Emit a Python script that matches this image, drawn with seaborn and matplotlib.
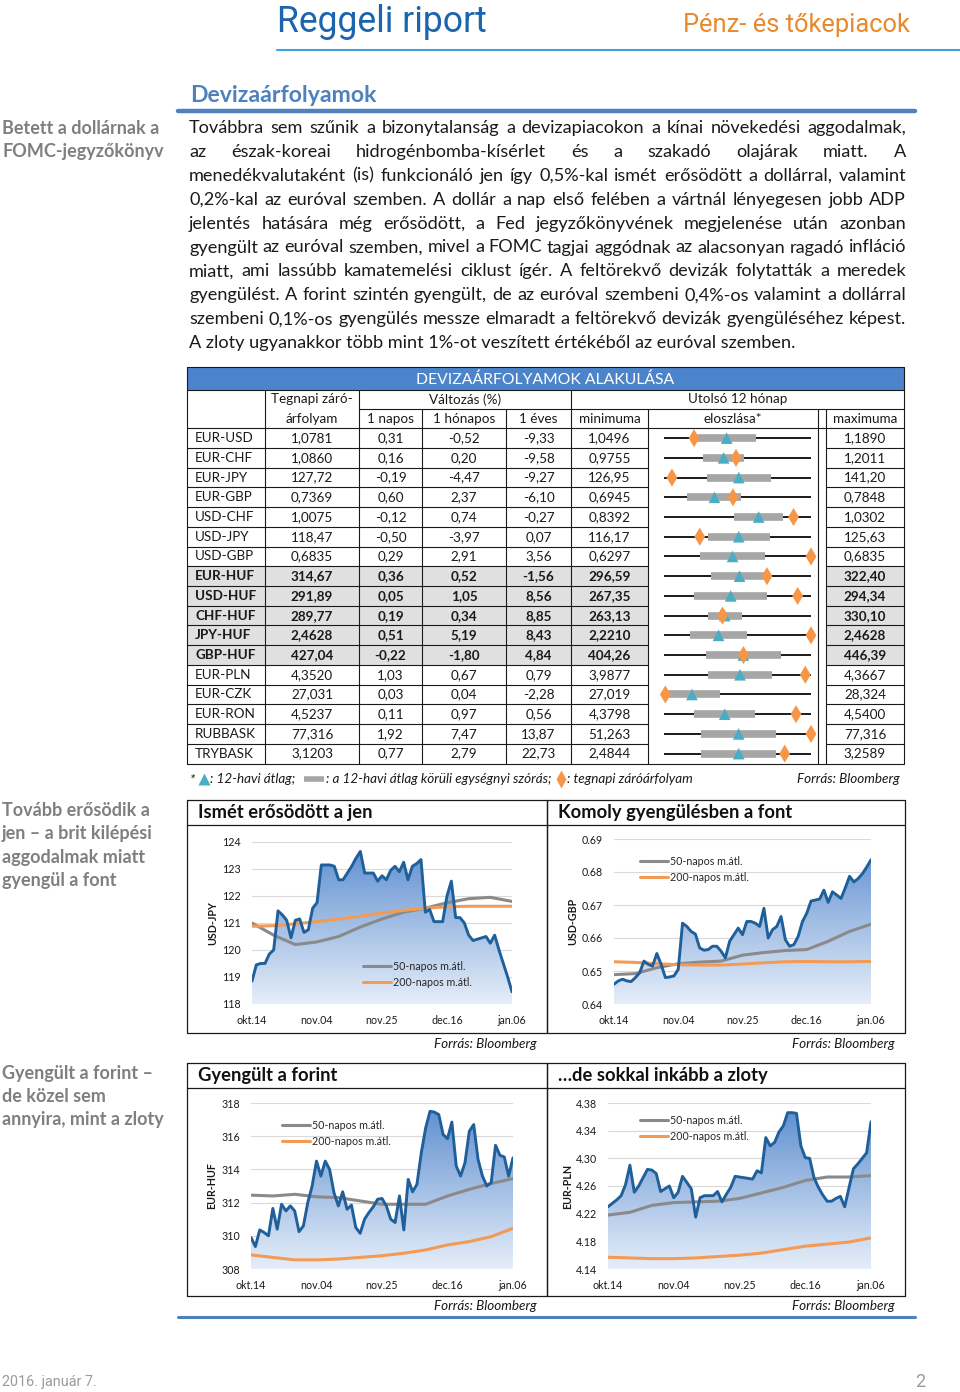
import numpy as np
import seaborn as sns
import matplotlib.pyplot as plt
from matplotlib.lines import Line2D
from matplotlib.colors import LinearSegmentedColormap

# ---- table data ----
pairs = ["EUR-USD", "EUR-CHF", "EUR-JPY", "EUR-GBP", "USD-CHF", "USD-JPY", "USD-GBP",
         "EUR-HUF", "USD-HUF", "CHF-HUF", "JPY-HUF", "GBP-HUF",
         "EUR-PLN", "EUR-CZK", "EUR-RON", "RUBBASK", "TRYBASK"]
decimals = [4, 4, 2, 4, 4, 2, 4, 2, 2, 2, 4, 2, 4, 3, 4, 3, 4]
close = [1.0781, 1.0860, 127.72, 0.7369, 1.0075, 118.47, 0.6835, 314.67, 291.89, 289.77,
         2.4628, 427.04, 4.3520, 27.031, 4.5237, 77.316, 3.1203]
chg_1d = [0.31, 0.16, -0.19, 0.60, -0.12, -0.50, 0.29, 0.36, 0.05, 0.19, 0.51, -0.22, 1.03, 0.03, 0.11, 1.92, 0.77]
chg_1m = [-0.52, 0.20, -4.47, 2.37, 0.74, -3.97, 2.91, 0.52, 1.05, 0.34, 5.19, -1.80, 0.67, 0.04, 0.97, 7.47, 2.79]
chg_1y = [-9.33, -9.58, -9.27, -6.10, -0.27, 0.07, 3.56, -1.56, 8.56, 8.85, 8.43, 4.84, 0.79, -2.28, 0.56, 13.87, 22.73]
min_12m = [1.0496, 0.9755, 126.95, 0.6945, 0.8392, 116.17, 0.6297, 296.59, 267.35, 263.13,
           2.2210, 404.26, 3.9877, 27.019, 4.3798, 51.263, 2.4844]
max_12m = [1.1890, 1.2011, 141.20, 0.7848, 1.0302, 125.63, 0.6835, 322.40, 294.34, 330.10,
           2.4628, 446.39, 4.3667, 28.324, 4.5400, 77.316, 3.2589]
mean_12m = [1.109, 1.067, 134.2, 0.7255, 0.9622, 120.98, 0.6548, 309.86, 279.6, 290.8,
            2.3107, 427.0, 4.1837, 27.267, 4.446, 64.50, 2.878]
std_12m = [0.028, 0.031, 3.1, 0.0166, 0.0318, 2.0, 0.0119, 5.0, 6.7, 7.7,
           0.0472, 10.7, 0.0824, 0.248, 0.033, 6.62, 0.197]
bold_rows = ["EUR-HUF", "USD-HUF", "CHF-HUF", "JPY-HUF", "GBP-HUF"]

# ---- chart data (61 business days, okt.14 - jan.06) ----
day_labels = ["okt.14", "nov.04", "nov.25", "dec.16", "jan.06"]
days = np.arange(61)
ma_days = np.arange(0, 61, 5)

usdjpy = [118.85, 119.45, 119.5, 119.5, 119.85, 120.0, 121.45, 121.3, 121.1, 120.45,
          121.1, 121.15, 120.65, 120.75, 121.55, 121.75, 123.15, 123.15, 123.15, 123.1,
          122.6, 122.6, 122.85, 123.1, 123.4, 123.65, 122.85, 122.85, 122.85, 122.55,
          122.75, 122.6, 122.95, 123.1, 122.9, 123.25, 122.6, 123.1, 123.2, 123.35,
          121.4, 121.5, 121.05, 121.05, 121.05, 122.0, 122.55, 121.2, 121.2, 121.0,
          120.55, 120.35, 120.4, 120.45, 120.5, 120.25, 120.55, 120.0, 119.5, 119.0, 118.45]
usdjpy_50 = [121.0, 120.55, 120.2, 120.3, 120.5, 120.85, 121.15, 121.4, 121.55, 121.75, 121.9, 121.95, 121.8]
usdjpy_200 = [120.88, 120.9, 120.97, 121.05, 121.15, 121.25, 121.37, 121.47, 121.55, 121.6, 121.62, 121.62, 121.62]

usdgbp = [0.6460, 0.6470, 0.6475, 0.6470, 0.6468, 0.6480, 0.6495, 0.6530, 0.6520, 0.6515,
          0.6553, 0.6520, 0.6480, 0.6482, 0.6485, 0.6505, 0.6645, 0.6635, 0.6620, 0.6612,
          0.6570, 0.6563, 0.6565, 0.6575, 0.6575, 0.6560, 0.6540, 0.6590, 0.6610, 0.6630,
          0.6610, 0.6650, 0.6650, 0.6645, 0.6635, 0.6690, 0.6600, 0.6625, 0.6635, 0.6665,
          0.6595, 0.6575, 0.6580, 0.6605, 0.6650, 0.6675, 0.6712, 0.6715, 0.6718, 0.6745,
          0.6708, 0.6740, 0.6730, 0.6720, 0.6752, 0.6787, 0.6770, 0.6780, 0.6795, 0.6815, 0.6837]
usdgbp_50 = [0.6489, 0.6492, 0.6510, 0.6522, 0.6527, 0.6530, 0.6548, 0.6556, 0.6562, 0.6565, 0.6590, 0.6620, 0.6642]
usdgbp_200 = [0.6528, 0.6526, 0.6522, 0.6519, 0.6518, 0.6518, 0.6521, 0.6525, 0.6528, 0.6529, 0.6528, 0.6528, 0.6529]

eurhuf = [309.9, 309.35, 310.35, 310.2, 310.0, 311.65, 310.4, 311.9, 311.5, 311.8,
          311.5, 310.25, 310.6, 312.0, 313.0, 314.5, 313.6, 314.5, 314.0, 312.6,
          311.8, 312.65, 311.6, 311.85, 310.5, 310.15, 311.0, 311.4, 311.75, 312.2,
          312.25, 311.8, 311.0, 310.8, 312.4, 310.35, 313.4, 312.65, 313.1, 315.0,
          316.5, 317.5, 317.45, 317.3, 316.1, 315.85, 316.85, 314.2, 313.6, 314.4,
          316.3, 316.7, 314.6, 313.6, 313.0, 313.2, 315.45, 314.85, 314.75, 313.6, 314.7]
eurhuf_50 = [312.45, 312.4, 312.5, 312.35, 312.3, 312.1, 311.9, 311.9, 311.9, 312.4, 312.8, 313.15, 313.45]
eurhuf_200 = [308.85, 308.7, 308.55, 308.55, 308.6, 308.7, 308.8, 308.95, 309.15, 309.45, 309.65, 309.95, 310.45]

eurpln = [4.230, 4.235, 4.240, 4.246, 4.262, 4.290, 4.251, 4.260, 4.272, 4.284,
          4.283, 4.278, 4.252, 4.256, 4.260, 4.243, 4.251, 4.274, 4.265, 4.256,
          4.215, 4.243, 4.246, 4.246, 4.246, 4.252, 4.237, 4.248, 4.258, 4.274,
          4.273, 4.272, 4.271, 4.270, 4.282, 4.279, 4.330, 4.318, 4.323, 4.338,
          4.347, 4.366, 4.366, 4.365, 4.318, 4.301, 4.300, 4.272, 4.258, 4.247,
          4.238, 4.238, 4.242, 4.245, 4.230, 4.258, 4.285, 4.292, 4.300, 4.308, 4.353]
eurpln_50 = [4.218, 4.222, 4.232, 4.236, 4.237, 4.238, 4.242, 4.250, 4.258, 4.268, 4.273, 4.273, 4.275]
eurpln_200 = [4.157, 4.156, 4.155, 4.155, 4.156, 4.158, 4.160, 4.163, 4.168, 4.173, 4.176, 4.179, 4.185]

body_lines = [
    "Továbbra sem szűnik a bizonytalanság a devizapiacokon a kínai növekedési aggodalmak,",
    "az észak-koreai hidrogénbomba-kísérlet és a szakadó olajárak miatt. A",
    "menedékvalutaként (is) funkcionáló jen így 0,5%-kal ismét erősödött a dollárral, valamint",
    "0,2%-kal az euróval szemben. A dollár a nap első felében a vártnál lényegesen jobb ADP",
    "jelentés hatására még erősödött, a Fed jegyzőkönyvének megjelenése után azonban",
    "gyengült az euróval szemben, mivel a FOMC tagjai aggódnak az alacsonyan ragadó infláció",
    "miatt, ami lassúbb kamatemelési ciklust ígér. A feltörekvő devizák folytatták a meredek",
    "gyengülést. A forint szintén gyengült, de az euróval szembeni 0,4%-os valamint a dollárral",
    "szembeni 0,1%-os gyengülés messze elmaradt a feltörekvő devizák gyengüléséhez képest.",
    "A zloty ugyanakkor több mint 1%-ot veszített értékéből az euróval szemben.",
]

# ---- page setup ----
sns.set_theme(style="white")
plt.rcParams["font.family"] = ["Lato", "DejaVu Sans"]
NARROW = ["Roboto", "DejaVu Sans"]
W, H = 960, 1392
fig = plt.figure(figsize=(W / 100, H / 100), dpi=100)
page = fig.add_axes([0, 0, 1, 1])
page.set_xlim(0, W)
page.set_ylim(H, 0)
page.axis("off")
rend = fig.canvas.get_renderer()


def box(x0, y0, x1, y1):
    return [x0 / W, 1 - y1 / H, (x1 - x0) / W, (y1 - y0) / H]


def width(t):
    return t.get_window_extent(renderer=rend).width


def fitted(x, y, s, target, **kw):
    # shrink/grow the font so the text spans the wanted pixel width
    t = page.text(x, y, s, **kw)
    t.set_fontsize(t.get_fontsize() * target / width(t))
    return t


# header
fitted(277, 22, "Reggeli riport", 210, fontsize=28, color="#1b64ae", family=NARROW, va="center")
fitted(910, 25, "Pénz- és tőkepiacok", 227, fontsize=21, color="#e8892b", family=NARROW,
       va="center", ha="right")
page.plot([277, 960], [50, 50], color="#3fa3db", lw=1.5)
fitted(190, 96, "Devizaárfolyamok", 186, fontsize=15, fontweight="bold", color="#4f81bd", va="center")
page.plot([178, 915], [111, 111], color="#4f81bd", lw=3.2)

# side notes
side = dict(fontsize=13.0, fontweight="bold", color="#7f7f7f", va="center")
for i, s in enumerate(["Betett a dollárnak a", "FOMC-jegyzőkönyv"]):
    page.text(2, 128 + 24 * i, s, **side)
for i, s in enumerate(["Tovább erősödik a", "jen – a brit kilépési", "aggodalmak miatt", "gyengül a font"]):
    page.text(2, 810 + 23.5 * i, s, **side)
for i, s in enumerate(["Gyengült a forint –", "de közel sem", "annyira, mint a zloty"]):
    page.text(2, 1073 + 23.5 * i, s, **side)

# justified body paragraph
x_left, x_right = 189, 906
body_fs = 12
probe = [page.text(0, 0, ln, fontsize=body_fs) for ln in body_lines]
widest = max(width(t) for t in probe)
for t in probe:
    t.remove()
body_fs = body_fs * (x_right - x_left - 3) / widest
for i, ln in enumerate(body_lines):
    y = 128 + 23.9 * i
    if i == len(body_lines) - 1:
        page.text(x_left, y, ln, fontsize=body_fs, color="#1a1a1a", va="center")
        continue
    words = ln.split(" ")
    ts = [page.text(0, y, w, fontsize=body_fs, color="#1a1a1a", va="center") for w in words]
    ws = [width(t) for t in ts]
    gap = (x_right - x_left - sum(ws)) / (len(words) - 1)
    x = x_left
    for t, w in zip(ts, ws):
        t.set_x(x)
        x += w + gap

# ---- table ----
cols = [187, 265, 359, 422, 506, 571, 648, 818, 826, 904]
t_top, t_hdr1, t_hdr2, t_body, t_bot = 367, 389.5, 409, 428.3, 763.5
rh = (t_bot - t_body) / len(pairs)
lc = "#1a1a1a"
tfs = 9.7

page.fill_between([cols[0], cols[-1]], t_top, t_hdr1, color="#4c84cc", lw=0)
for i, p in enumerate(pairs):
    if p in bold_rows:
        y0 = t_body + rh * i
        page.fill_between([cols[0], cols[6]], y0, y0 + rh, color="#e0e0e0", lw=0)
        page.fill_between([cols[8], cols[9]], y0, y0 + rh, color="#e0e0e0", lw=0)

page.plot([cols[0], cols[-1], cols[-1], cols[0], cols[0]], [t_top, t_top, t_bot, t_bot, t_top], color=lc, lw=0.8)
page.plot([cols[0], cols[-1]], [t_hdr1, t_hdr1], color=lc, lw=0.8)
page.plot([cols[2], cols[-1]], [t_hdr2, t_hdr2], color=lc, lw=0.8)
page.plot([cols[0], cols[-1]], [t_body, t_body], color=lc, lw=0.8)
for k in range(1, len(pairs)):
    y = t_body + rh * k
    page.plot([cols[0], cols[6]], [y, y], color=lc, lw=0.8)
    page.plot([cols[8], cols[9]], [y, y], color=lc, lw=0.8)
for c in [cols[1], cols[2], cols[5]]:
    page.plot([c, c], [t_hdr1, t_bot], color=lc, lw=0.8)
for c in [cols[3], cols[4], cols[6], cols[7], cols[8]]:
    page.plot([c, c], [t_hdr2, t_bot], color=lc, lw=0.8)

page.text((cols[0] + cols[-1]) / 2, (t_top + t_hdr1) / 2 + 1, "DEVIZAÁRFOLYAMOK ALAKULÁSA",
          color="white", fontsize=11.3, ha="center", va="center")
hc = dict(fontsize=tfs, ha="center", va="center", color="#1a1a1a")
r1, r2 = (t_hdr1 + t_hdr2) / 2, (t_hdr2 + t_body) / 2
page.text((cols[1] + cols[2]) / 2, r1, "Tegnapi záró-", **hc)
page.text((cols[1] + cols[2]) / 2, r2, "árfolyam", **hc)
page.text((cols[2] + cols[5]) / 2, r1, "Változás (%)", **hc)
page.text((cols[5] + cols[-1]) / 2, r1, "Utolsó 12 hónap", **hc)
for a, b, s in [(2, 3, "1 napos"), (3, 4, "1 hónapos"), (4, 5, "1 éves"), (5, 6, "minimuma"),
                (6, 7, "eloszlása*"), (8, 9, "maximuma")]:
    page.text((cols[a] + cols[b]) / 2, r2, s, **hc)


def fmt(v, d):
    return f"{v:.{d}f}".replace(".", ",")


for i, p in enumerate(pairs):
    y = t_body + rh * (i + 0.5)
    fw = "bold" if p in bold_rows else "normal"
    kw = dict(fontsize=tfs, va="center", color="#1a1a1a", fontweight=fw)
    page.text(cols[0] + 8, y, p, **kw)
    vals = [fmt(close[i], decimals[i]), fmt(chg_1d[i], 2), fmt(chg_1m[i], 2), fmt(chg_1y[i], 2),
            fmt(min_12m[i], decimals[i])]
    for j, v in enumerate(vals):
        page.text((cols[j + 1] + cols[j + 2]) / 2, y, v, ha="center", **kw)
    page.text((cols[8] + cols[9]) / 2, y, fmt(max_12m[i], decimals[i]), ha="center", **kw)

# distribution glyphs (12-month range normalised to 0..1)
lo, hi = np.array(min_12m), np.array(max_12m)
rng = hi - lo
mean_n = (np.array(mean_12m) - lo) / rng
std_n = np.array(std_12m) / rng
close_n = (np.array(close) - lo) / rng
rows = np.arange(len(pairs)) + 0.5
dist = fig.add_axes(box(664, t_body, 811, t_bot))
dist.patch.set_alpha(0)
dist.hlines(rows, 0, 1, color="#1a1a1a", lw=1.4, zorder=1)
dist.hlines(rows, mean_n - std_n, mean_n + std_n, color="#a6a6a6", lw=5.5, zorder=2)
sns.scatterplot(x=mean_n, y=rows, marker="^", s=70, color="#4bacc6", edgecolor="none",
                ax=dist, clip_on=False, zorder=3)
sns.scatterplot(x=close_n, y=rows, marker="d", s=85, color="#f79646", edgecolor="none",
                ax=dist, clip_on=False, zorder=4)
dist.set_xlim(0, 1)
dist.set_ylim(len(pairs), 0)
dist.axis("off")

# legend line under the table
ly = 779
it = dict(fontsize=9.7, style="italic", va="center", color="#1a1a1a")
t = page.text(190, ly, "*", **it)
x = 190 + width(t) + 4
page.plot([x + 5], [ly], marker="^", ms=8, color="#4bacc6", mec="none")
t = page.text(x + 11, ly, ": 12-havi átlag;", **it)
x = x + 11 + width(t) + 8
page.plot([x, x + 20], [ly, ly], color="#a6a6a6", lw=4, solid_capstyle="butt")
t = page.text(x + 22, ly, ": a 12-havi átlag körüli egységnyi szórás;", **it)
x = x + 22 + width(t) + 6
page.plot([x + 4], [ly], marker="d", ms=9, color="#f79646", mec="none")
page.text(x + 10, ly, ": tegnapi záróárfolyam", **it)
page.text(900, ly, "Forrás: Bloomberg", ha="right", **it)

# ---- charts ----
fill_cmap = LinearSegmentedColormap.from_list("fill", ["#e6eef9", "#5b8dcf"])
ma_grey, ma_orange, line_blue = "#8a8a8a", "#f39a55", "#1f5f9a"


def chart(frame, title, ylab, ylab_x, area, ylim, yticks, yfmt, main, ma50, ma200, leg_at):
    fx0, fy0, fx1, fy1 = frame
    page.plot([fx0, fx1, fx1, fx0, fx0], [fy0, fy0, fy1, fy1, fy0], color="#1a1a1a", lw=0.9)
    page.plot([fx0, fx1], [fy0 + 24.5, fy0 + 24.5], color="#1a1a1a", lw=0.9)
    page.text(fx0 + 11, fy0 + 12.5, title, fontsize=13.2, fontweight="bold", va="center", color="#111111")
    page.text(fx1 - 10, fy1 + 10.5, "Forrás: Bloomberg", fontsize=9.7, style="italic",
              ha="right", va="center", color="#1a1a1a")
    ax = fig.add_axes(box(*area))
    ax.patch.set_alpha(0)
    poly = ax.fill_between(days, main, ylim[0], color="none", lw=0)
    grad = np.linspace(1, 0, 256).reshape(-1, 1)
    im = ax.imshow(grad, extent=[0, 60, ylim[0], ylim[1]], aspect="auto", cmap=fill_cmap,
                   origin="upper", zorder=1)
    im.set_clip_path(poly.get_paths()[0], transform=ax.transData)
    sns.lineplot(x=ma_days, y=ma50, ax=ax, color=ma_grey, lw=2.2, zorder=3)
    sns.lineplot(x=ma_days, y=ma200, ax=ax, color=ma_orange, lw=2.2, zorder=3)
    sns.lineplot(x=days, y=main, ax=ax, color=line_blue, lw=2.1, zorder=4)
    ax.set_xlim(0, 60)
    ax.set_ylim(*ylim)
    ax.set_xticks([0, 15, 30, 45, 60])
    ax.set_xticklabels(day_labels)
    ax.set_yticks(yticks)
    ax.set_yticklabels([yfmt.format(v) for v in yticks])
    ax.tick_params(axis="both", length=0, labelsize=7.7, colors="#1a1a1a")
    ax.tick_params(axis="y", pad=8)
    ax.tick_params(axis="x", pad=8)
    ax.grid(axis="y", color="#d9d9d9", lw=0.8)
    ax.grid(axis="x", visible=False)
    ax.set_axisbelow(True)
    for sp in ax.spines.values():
        sp.set_visible(False)
    ax.set_xlabel("")
    ax.set_ylabel("")
    page.text(ylab_x, (area[1] + area[3]) / 2, ylab, rotation=90, fontsize=7.7, fontweight="bold",
              ha="center", va="center", color="#1a1a1a")
    handles = [Line2D([], [], color=ma_grey, lw=2.2), Line2D([], [], color=ma_orange, lw=2.2)]
    ax.legend(handles, ["50-napos m.átl.", "200-napos m.átl."], loc="upper left",
              bbox_to_anchor=(leg_at[0] / W, 1 - leg_at[1] / H), bbox_transform=fig.transFigure,
              frameon=False, fontsize=7.7, handlelength=2.6, handletextpad=0.2,
              labelspacing=0.45, borderpad=0, borderaxespad=0)


chart((187, 800, 547, 1033), "Ismét erősödött a jen", "USD-JPY", 213, (252, 842, 512, 1004),
      (118, 124), np.arange(118, 125, 1), "{:.0f}", usdjpy, usdjpy_50, usdjpy_200, (363, 961))
chart((547, 800, 905, 1033), "Komoly gyengülésben a font", "USD-GBP", 573, (614, 839, 871, 1004),
      (0.64, 0.69), np.round(np.arange(0.64, 0.695, 0.01), 2), "{:.2f}", usdgbp, usdgbp_50, usdgbp_200, (640, 856))
chart((187, 1063, 547, 1296), "Gyengült a forint", "EUR-HUF", 212, (251, 1103, 513, 1269),
      (308, 318), np.arange(308, 319, 2), "{:.0f}", eurhuf, eurhuf_50, eurhuf_200, (282, 1120))
chart((547, 1063, 905, 1296), "…de sokkal inkább a zloty", "EUR-PLN", 568, (608, 1103, 871, 1269),
      (4.14, 4.38), np.round(np.arange(4.14, 4.385, 0.04), 2), "{:.2f}", eurpln, eurpln_50, eurpln_200, (640, 1115))

# bottom rule and footer
page.plot([178, 915], [1317, 1317], color="#4f81bd", lw=2.2)
fitted(2, 1382, "2016. január 7.", 95, fontsize=10, color="#9a9a9a", family=NARROW, va="center")
page.text(925, 1382, "2", fontsize=13, color="#9a9a9a", family=NARROW, va="center", ha="right")

fig.savefig("out.png", dpi=100)
